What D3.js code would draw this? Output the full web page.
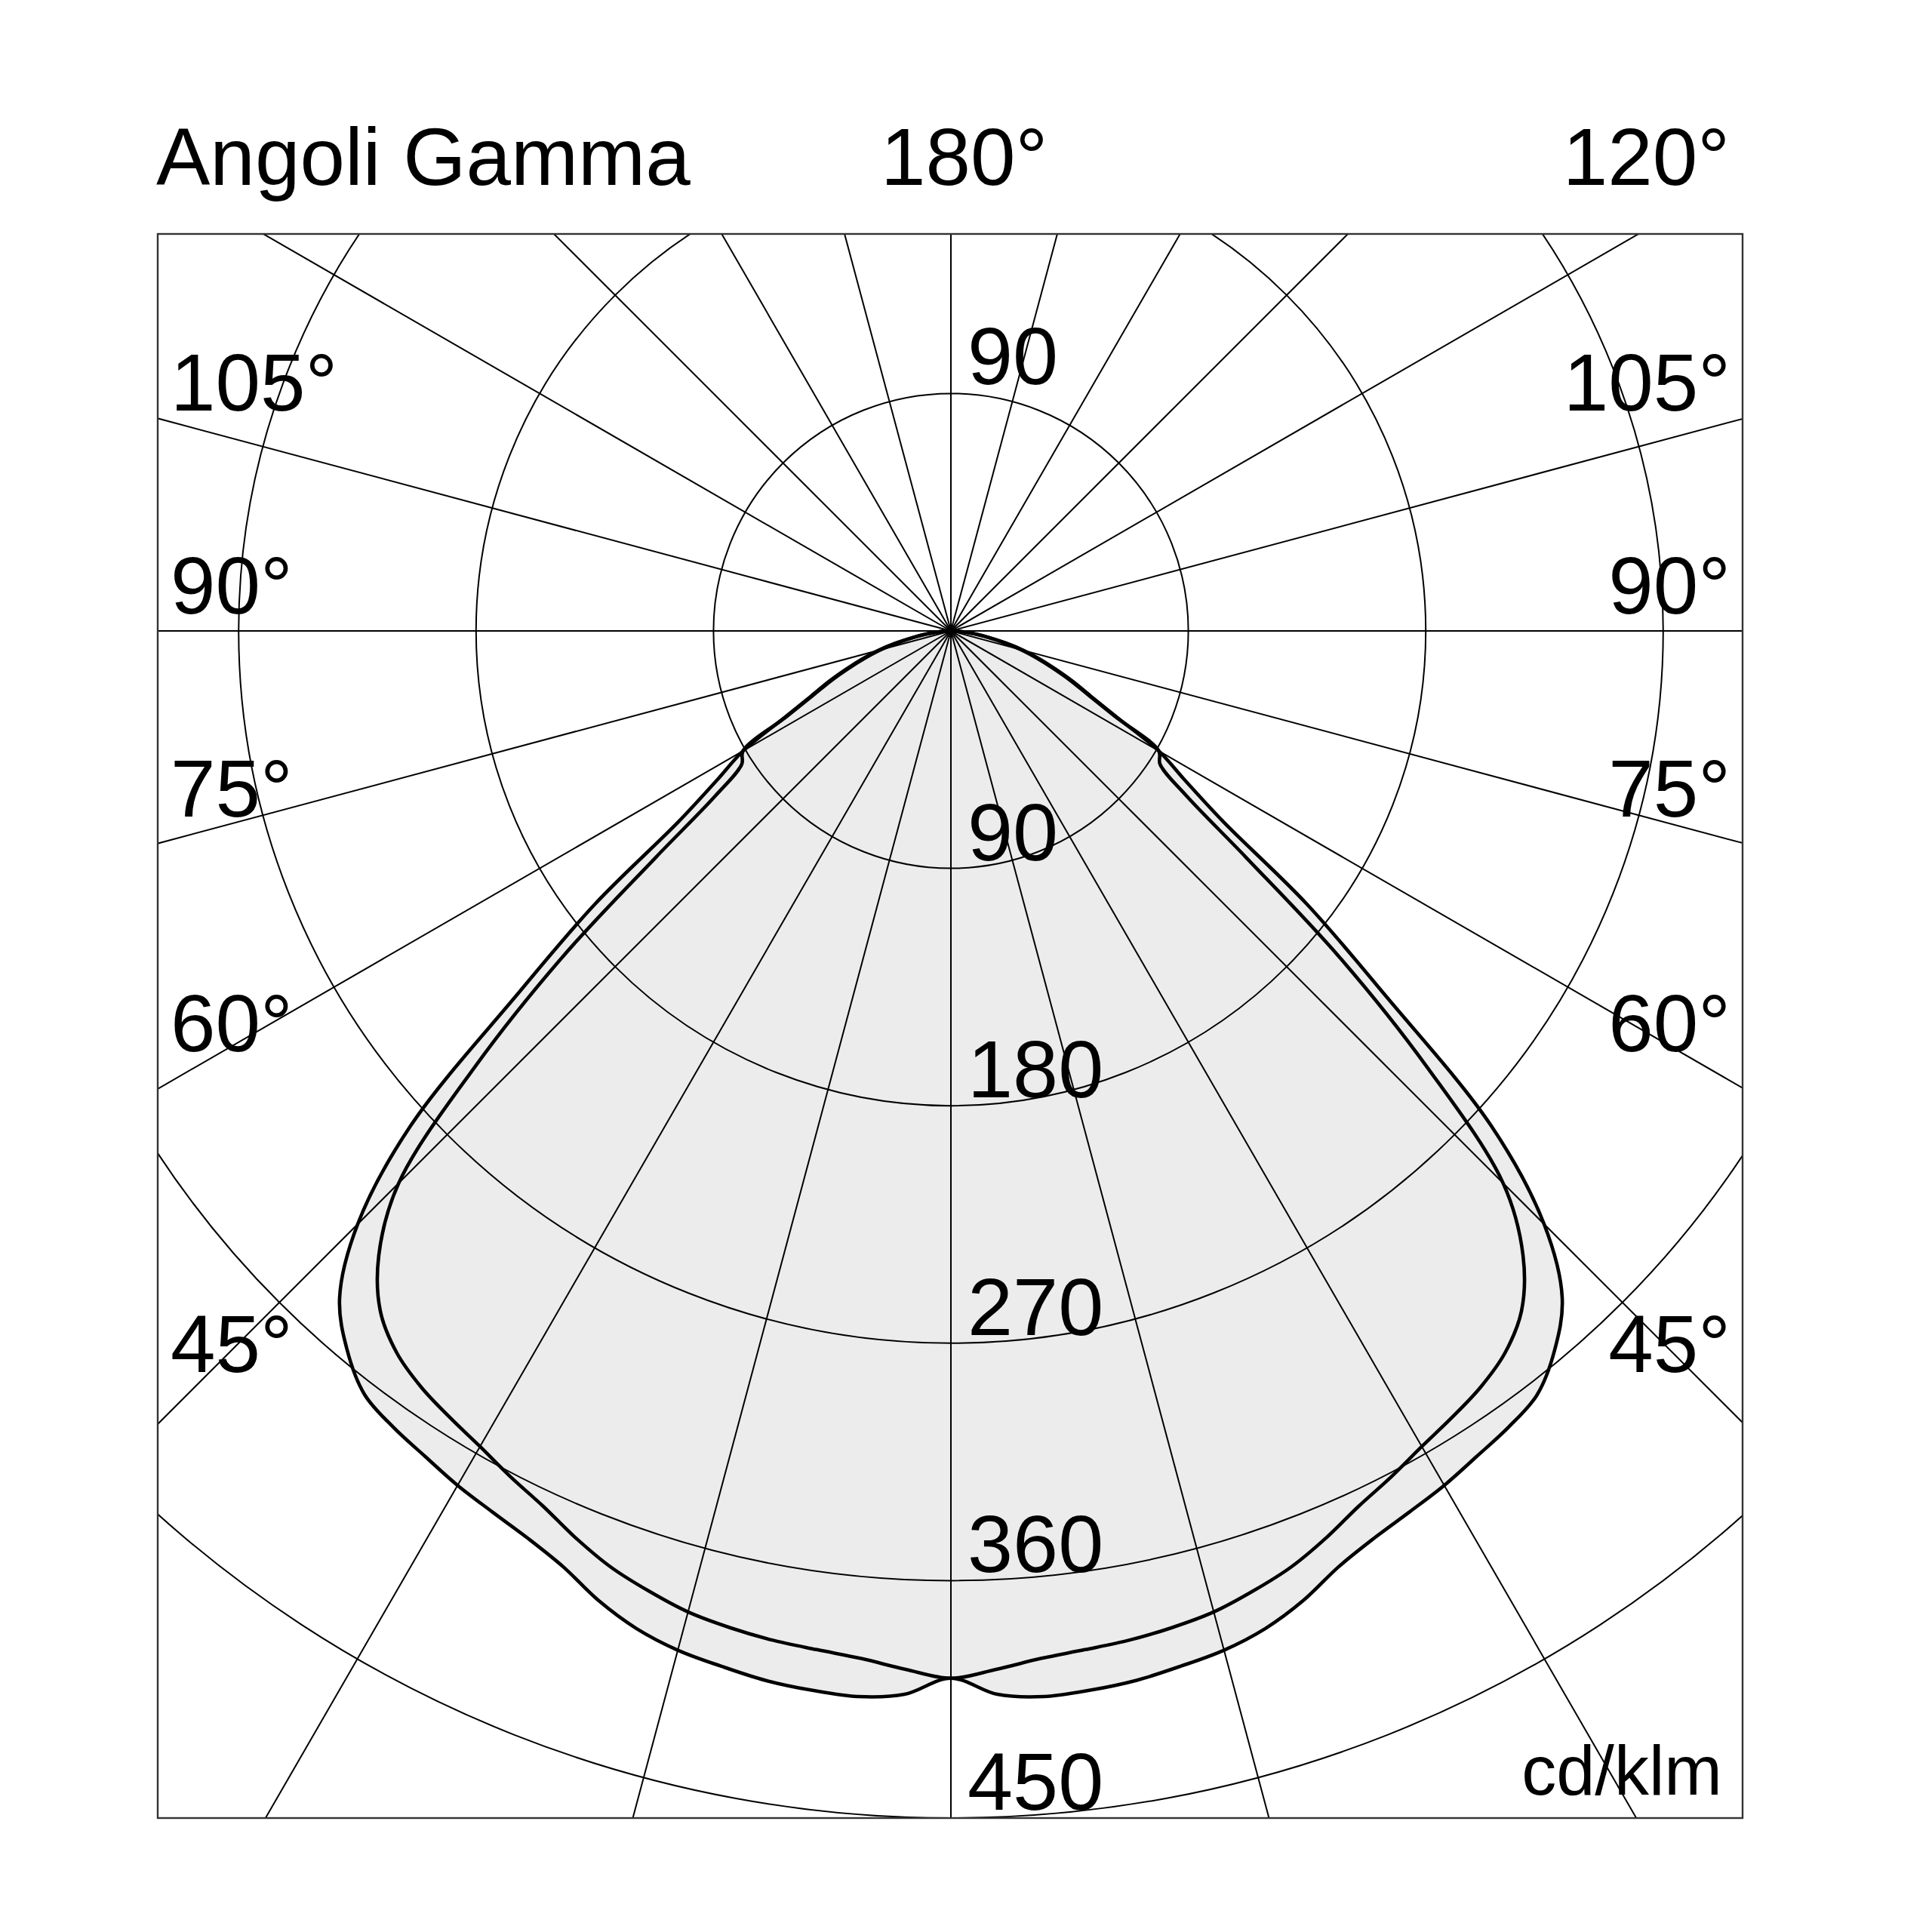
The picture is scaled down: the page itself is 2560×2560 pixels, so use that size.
<!DOCTYPE html>
<html><head><meta charset="utf-8">
<script src="https://cdn.jsdelivr.net/npm/d3@7"></script>
<style>html,body{margin:0;padding:0;background:#fff;}</style>
</head><body>
<svg id="chart" width="2560" height="2560" xmlns="http://www.w3.org/2000/svg"></svg>
<script>
// ---- data (gamma angles in degrees, intensities in cd/klm) ----
const gammaDeg = [0,2.5,5,7.5,10,12.5,15,17.5,20,22.5,25,27.5,30,32.5,35,37.5,40,42.5,45,47.5,50,52.5,55,57.5,60,62.5,65,67.5,70,72.5,75,77.5,80,82.5,85,87.5,90];
const cdPlaneA = [397,403.5,405.5,405,404,402,400,396.5,391,384,379.5,376.5,374,371,368.5,365,356,343,318,278,215,170,126,105,91,71,58.5,50,42,35,28.5,21.5,15,10,6,2.5,0];
const cdPlaneB = [397,394,391,389.5,388.5,387,385,381.5,377.5,372,366,361.5,357,353.5,350,345,336.5,321,296,245,192,141,109,94,91,70,57.5,49,41,34,27.5,20.5,14.5,9.5,5.5,2.5,0];
const ringValues = [90,180,270,360,450];
const ringLabels = ["90","180","270","360","450"];
const upperRingLabels = ["90"];
const spokeAngles = d3.range(0,360,15);
const sideAngles = [105,90,75,60,45];
const sideLabels = ["105°","90°","75°","60°","45°"];
const titleText = "Angoli Gamma";
const topCenterText = "180°";
const topRightText = "120°";
const unitText = "cd/klm";

// ---- layout ----
const box = {x0:209, y0:310, x1:2309, y1:2409};
const cx = 1260, cy = 836;
const r = d3.scaleLinear().domain([0,450]).range([0,1573]);
const rad = d => d*Math.PI/180;
const FONT = "'Liberation Sans', Arial, Helvetica, sans-serif";

const svg = d3.select("#chart");
svg.append("rect").attr("width",2560).attr("height",2560).attr("fill","#fff");
svg.append("defs").append("clipPath").attr("id","boxclip")
  .append("rect").attr("x",box.x0).attr("y",box.y0)
  .attr("width",box.x1-box.x0).attr("height",box.y1-box.y0);

const g = svg.append("g").attr("clip-path","url(#boxclip)");
const polar = g.append("g").attr("transform",`translate(${cx},${cy})`);

// curves: left half (gamma 90 -> 0) then right half (gamma 0 -> 90)
function pts(vals){
  const out = [];
  for (let i = gammaDeg.length-1; i >= 0; i--) out.push([Math.PI + rad(gammaDeg[i]), r(vals[i])]);
  for (let i = 1; i < gammaDeg.length; i++) out.push([Math.PI - rad(gammaDeg[i]), r(vals[i])]);
  return out;
}
const radial = d3.lineRadial().angle(d=>d[0]).radius(d=>d[1]).curve(d3.curveCatmullRom.alpha(0.5));

// fill
[cdPlaneA, cdPlaneB].forEach(v=>{
  polar.append("path").attr("d", radial(pts(v)) + "Z").attr("fill","#ececec").attr("stroke","none");
});

// grid circles
polar.selectAll("circle.ring").data(ringValues).join("circle")
  .attr("class","ring").attr("r",d=>r(d)).attr("fill","none")
  .attr("stroke","#000").attr("stroke-width",2);
// spokes every 15 degrees
polar.selectAll("line.spoke").data(spokeAngles).join("line")
  .attr("class","spoke")
  .attr("x1",0).attr("y1",0)
  .attr("x2",d=>3000*Math.sin(rad(d)))
  .attr("y2",d=>3000*Math.cos(rad(d)))
  .attr("stroke","#000").attr("stroke-width",2);

// curves
[cdPlaneA, cdPlaneB].forEach(v=>{
  polar.append("path").attr("d", radial(pts(v)))
    .attr("fill","none").attr("stroke","#000").attr("stroke-width",4.6)
    .attr("stroke-linejoin","round");
});

// box
svg.append("rect").attr("x",box.x0).attr("y",box.y0)
  .attr("width",box.x1-box.x0).attr("height",box.y1-box.y0)
  .attr("fill","none").attr("stroke","#333").attr("stroke-width",2.4);

// texts
const txt = (s,x,y,anchor,size) => svg.append("text").text(s)
  .attr("x",x).attr("y",y).attr("text-anchor",anchor)
  .attr("font-family",FONT).attr("font-size",size).attr("fill","#000");

txt(titleText, 207, 245, "start", 107);
txt(topCenterText, 1167, 245, "start", 107);
txt(topRightText, 2292, 245, "end", 107);

const labelDist = 1005;
sideAngles.forEach((a,i)=>{
  const y = cy + labelDist/Math.tan(rad(a)) - 23;
  txt(sideLabels[i], 226, y, "start", 107);
  txt(sideLabels[i], 2293, y, "end", 107);
});

ringValues.forEach((v,i)=>{
  txt(ringLabels[i], cx+22, cy + r(v) - 11, "start", 108);
});
upperRingLabels.forEach(s=>{
  txt(s, cx+22, cy - r(+s) - 12, "start", 108);
});
txt(unitText, 2282, 2378, "end", 92);
</script>
</body></html>
